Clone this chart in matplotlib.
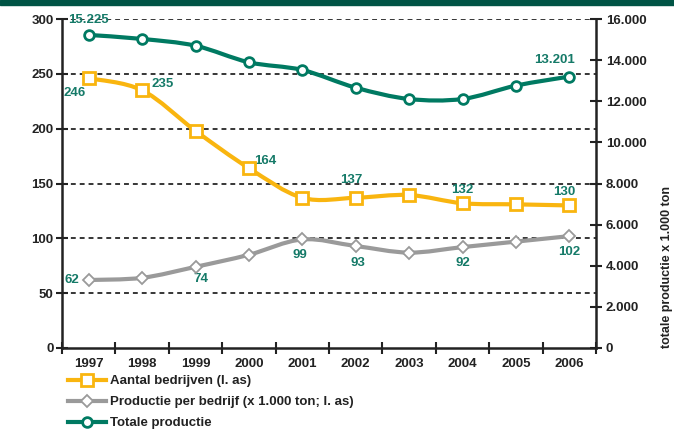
import numpy as np
import matplotlib.pyplot as plt
from matplotlib.path import Path
from matplotlib.patches import PathPatch, Rectangle
from matplotlib.lines import Line2D

plt.rcParams["font.family"] = ["Liberation Sans", "DejaVu Sans"]
plt.rcParams["font.weight"] = "bold"

years = ["1997", "1998", "1999", "2000", "2001", "2002", "2003", "2004", "2005", "2006"]
bedrijven = [246, 235, 198, 164, 137, 137, 139.5, 132, 131, 130]
per_bedrijf = [62, 64, 74, 85, 99, 93, 87, 92, 97, 102]
totaal = [15225, 15030, 14700, 13895, 13520, 12660, 12110, 12110, 12760, 13201]

bedrijven_labels = {0: "246", 1: "235", 3: "164", 5: "137", 7: "132", 9: "130"}
per_bedrijf_labels = {0: "62", 2: "74", 4: "99", 5: "93", 7: "92", 9: "102"}
totaal_labels = {0: "15.225", 9: "13.201"}

YELLOW = "#f9b50f"
GREY = "#9a9a9a"
GREEN = "#007a62"
LABEL = "#157a68"
DARK = "#222222"


def smooth_path(x, y, tension=1 / 6):
    # Catmull-Rom style smoothing turned into cubic bezier segments
    pts = np.column_stack([x, y]).astype(float)
    verts = [pts[0]]
    codes = [Path.MOVETO]
    n = len(pts)
    for i in range(n - 1):
        p0 = pts[i - 1] if i > 0 else pts[i]
        p1 = pts[i]
        p2 = pts[i + 1]
        p3 = pts[i + 2] if i + 2 < n else pts[i + 1]
        c1 = p1 + (p2 - p0) * tension
        c2 = p2 - (p3 - p1) * tension
        verts += [c1, c2, p2]
        codes += [Path.CURVE4] * 3
    return Path(verts, codes)


fig = plt.figure(figsize=(6.74, 4.30), dpi=100)
fig.patches.append(Rectangle((0, 1 - 5 / 430), 1, 5 / 430, transform=fig.transFigure,
                             color="#005445", zorder=0))

ax = fig.add_axes([62 / 674, 1 - 348 / 430, 534 / 674, 329 / 430])
ax2 = ax.twinx()
x = np.arange(len(years))

ax.set_xlim(-0.5, len(years) - 0.5)
ax.set_ylim(0, 300)
ax2.set_ylim(0, 16000)

# dashed grid on the left scale
for v in range(50, 301, 50):
    ax.axhline(v, color="black", lw=1.1, ls=(0, (3.2, 2.6)), zorder=1)

# aantal bedrijven (left axis)
ax.add_patch(PathPatch(smooth_path(x, bedrijven), fill=False, edgecolor=YELLOW, lw=3, zorder=3))
ax.plot(x, bedrijven, ls="none", marker="s", ms=8, mfc="white", mec=YELLOW, mew=2, zorder=4)

# productie per bedrijf (left axis)
ax.add_patch(PathPatch(smooth_path(x, per_bedrijf), fill=False, edgecolor=GREY, lw=3, zorder=3))
ax.plot(x, per_bedrijf, ls="none", marker="D", ms=6.5, mfc="white", mec=GREY, mew=1.3, zorder=4)

# totale productie (right axis)
ax2.add_patch(PathPatch(smooth_path(x, totaal), fill=False, edgecolor=GREEN, lw=3, zorder=3))
ax2.plot(x, totaal, ls="none", marker="o", ms=7, mfc="white", mec=GREEN, mew=2, zorder=4)

lbl = dict(color=LABEL, fontsize=9.5, fontweight="bold", ha="center", va="center")
bed_off = {0: (-10, -10.8), 1: (15, 4.3), 3: (12, 5), 5: (-3, 13), 7: (0, 9.4), 9: (-3.6, 10)}
for i, t in bedrijven_labels.items():
    ax.annotate(t, (x[i], bedrijven[i]), xytext=bed_off[i], textcoords="offset points", **lbl)
per_off = {0: (-12, 0), 2: (4, -9), 4: (-1.5, -11.5), 5: (1.4, -12), 7: (0, -11.5), 9: (0, -11.5)}
for i, t in per_bedrijf_labels.items():
    ax.annotate(t, (x[i], per_bedrijf[i]), xytext=per_off[i], textcoords="offset points", **lbl)
tot_off = {0: (0, 10.8), 9: (-11, 12)}
for i, t in totaal_labels.items():
    ax2.annotate(t, (x[i], totaal[i]), xytext=tot_off[i], textcoords="offset points", **lbl)

# axes styling
for a in (ax, ax2):
    a.spines["top"].set_visible(False)
    for s in ("left", "right", "bottom"):
        a.spines[s].set_color(DARK)
        a.spines[s].set_linewidth(1.8)
ax.spines["right"].set_visible(False)
ax2.spines["left"].set_visible(False)
ax2.spines["bottom"].set_visible(False)

ax.set_yticks(range(0, 301, 50))
ax.set_xticks(np.arange(-0.5, len(years), 1.0))
ax.set_xticklabels([])
ax.set_xticks(x, minor=True)
ax.set_xticklabels(years, minor=True)
ax.tick_params(axis="x", which="major", direction="inout", length=8, width=1.5, color=DARK)
ax.tick_params(axis="x", which="minor", length=0, pad=7.5, labelsize=9.5, labelcolor=DARK)
ax.tick_params(axis="y", direction="inout", length=8, width=1.5, color=DARK,
               labelsize=9.5, labelcolor=DARK, pad=2)

ax2.set_yticks(range(0, 16001, 2000))
ax2.set_yticklabels(["0"] + [f"{v // 1000}.000" for v in range(2000, 16001, 2000)])
ax2.tick_params(axis="y", direction="inout", length=8, width=1.5, color=DARK,
                labelsize=9.5, labelcolor=DARK, pad=3)
fig.text(667 / 674, 1 - 348 / 430, "totale productie x 1.000 ton", rotation=90,
         ha="center", va="bottom", fontsize=9, fontweight="bold", color=DARK)

for t in ax.get_xticklabels(minor=True) + ax.get_yticklabels() + ax2.get_yticklabels():
    t.set_fontweight("bold")

handles = [
    Line2D([], [], color=YELLOW, lw=3, marker="s", ms=8, mfc="white", mec=YELLOW, mew=2),
    Line2D([], [], color=GREY, lw=3, marker="D", ms=6.5, mfc="white", mec=GREY, mew=1.3),
    Line2D([], [], color=GREEN, lw=3, marker="o", ms=7, mfc="white", mec=GREEN, mew=2),
]
names = ["Aantal bedrijven (l. as)", "Productie per bedrijf (x 1.000 ton; l. as)", "Totale productie"]
leg = fig.legend(handles, names, loc="upper left", bbox_to_anchor=(68 / 674, 1 - 375 / 430),
                 frameon=False, fontsize=9.5, handlelength=2.9, handletextpad=0.3,
                 labelspacing=0.66, borderaxespad=0, borderpad=0)
for t in leg.get_texts():
    t.set_color(DARK)
    t.set_fontweight("bold")

fig.savefig("out.png", dpi=100)
